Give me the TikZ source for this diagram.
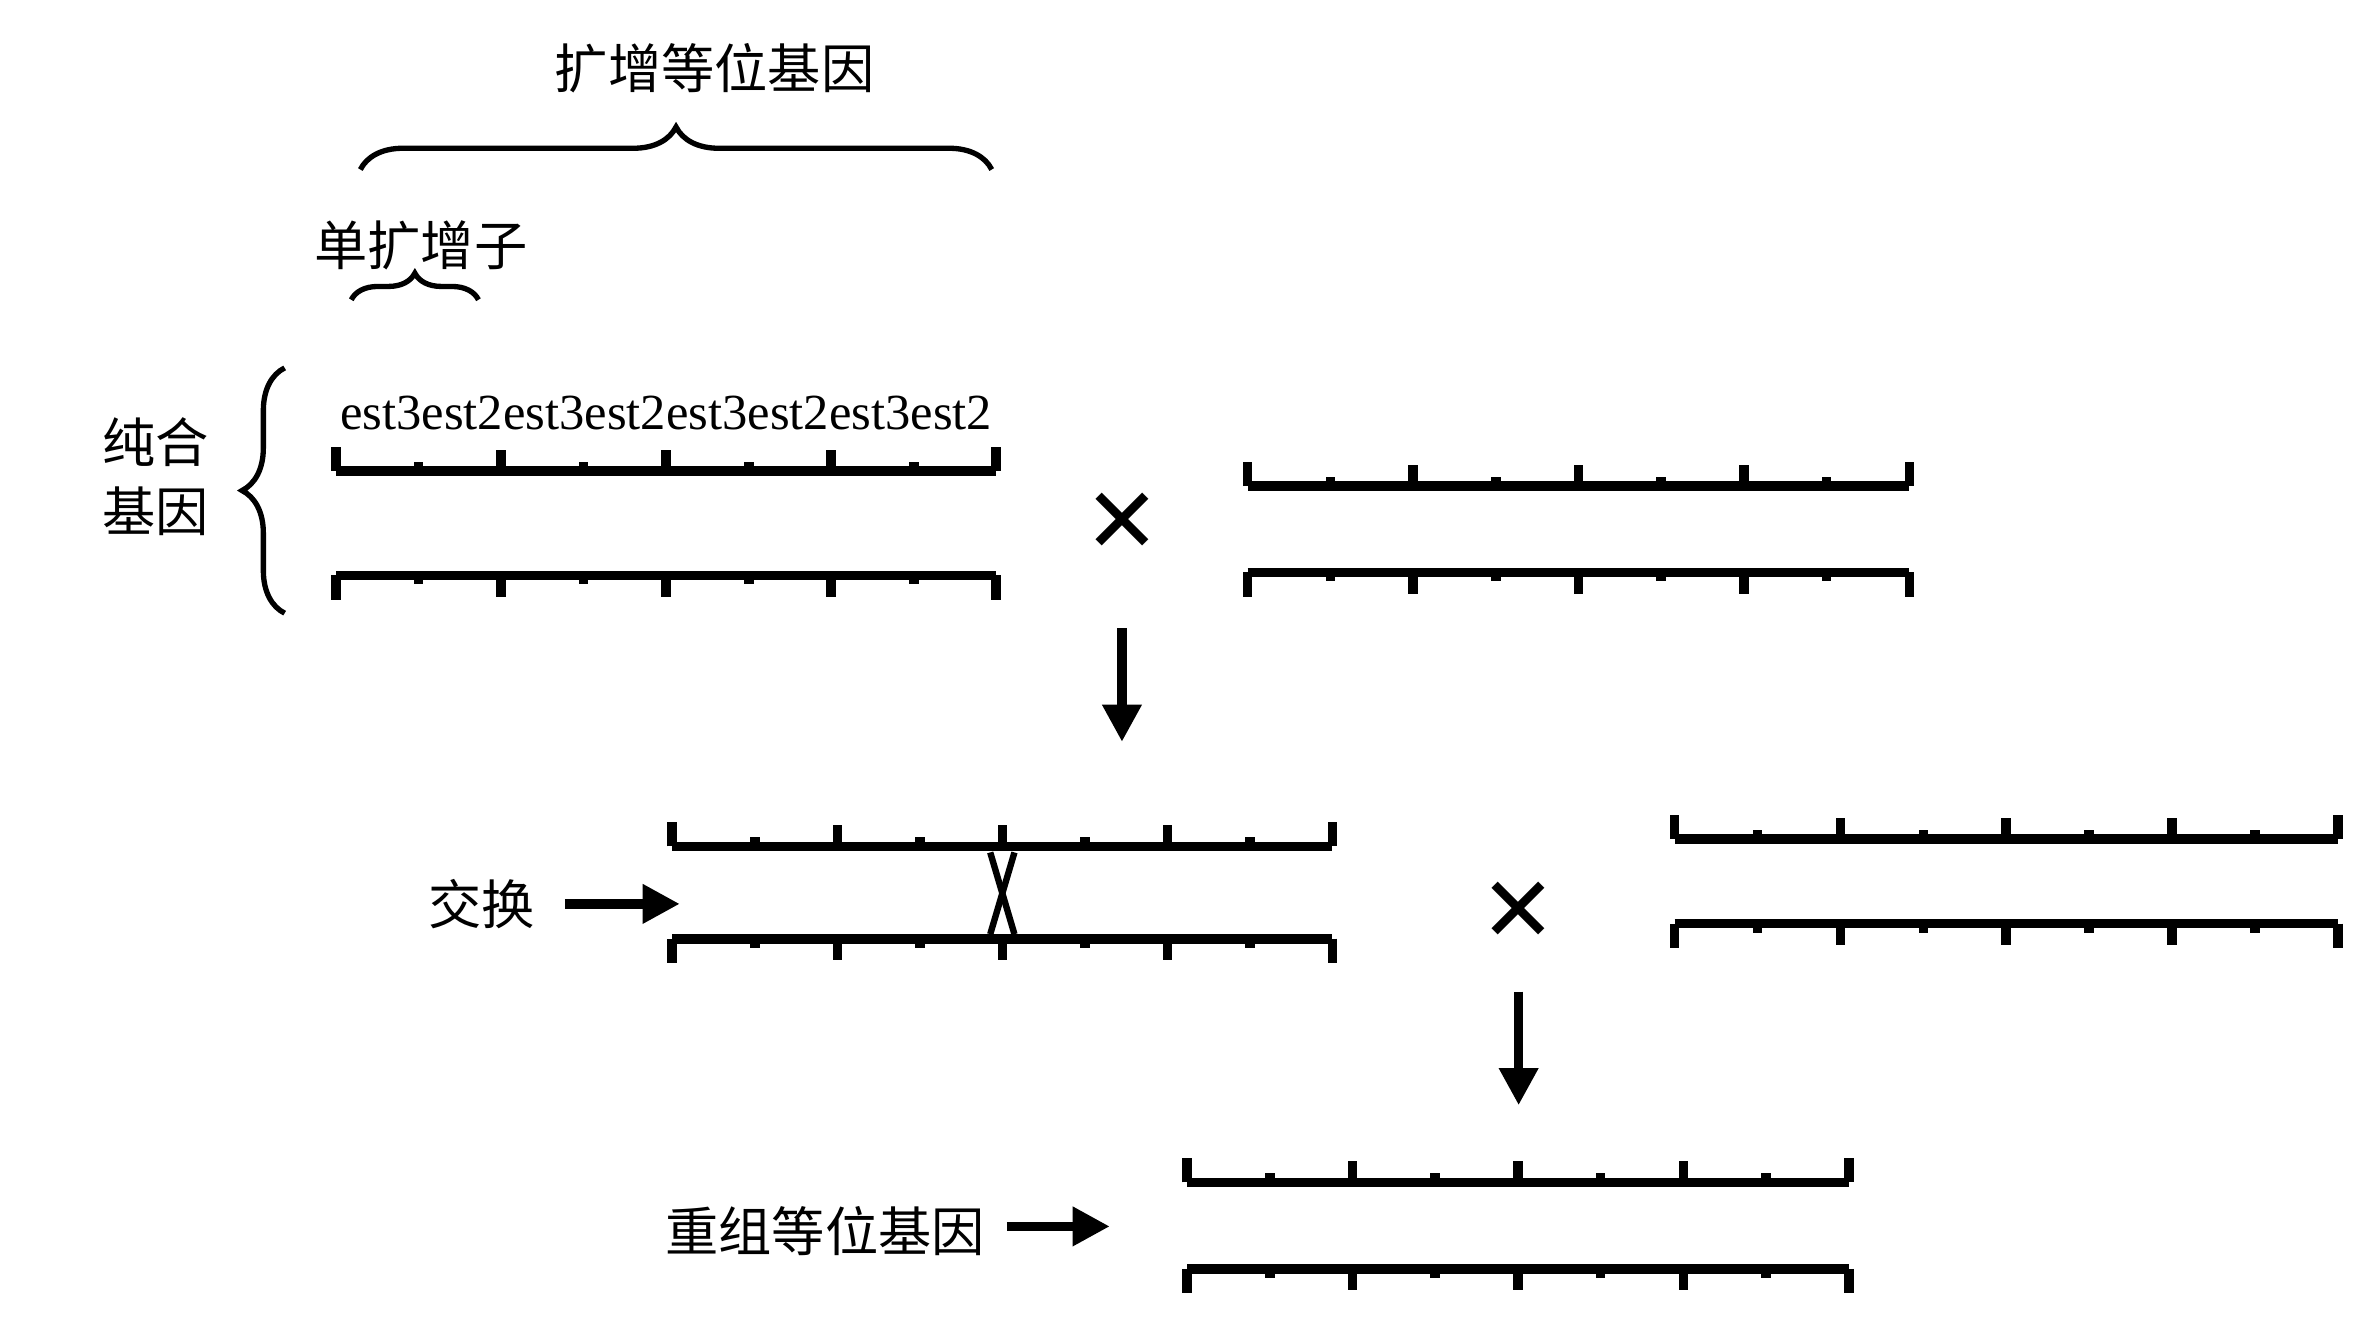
\documentclass[tikz,border=0pt]{standalone}
\usepackage{fontspec}
\setmainfont{Liberation Serif}
\newfontfamily\cjk{Noto Sans CJK SC}
\newfontfamily\symb{DejaVu Sans}
\usetikzlibrary{arrows.meta,positioning,decorations.pathreplacing}

% one chromosome: x start, x end, y, tick direction (-1 up, +1 down)
\newcommand{\chrom}[4]{%
  \draw[chr] (#1,#3) -- (#2,#3);
  \draw[chr] (#1,#3) -- ++(0,#4*16) (#2,#3) -- ++(0,#4*16);
  \foreach \k in {1,...,7}{
    \pgfmathsetmacro{\tx}{#1+\k*(#2-#1)/8}
    \pgfmathsetmacro{\tl}{mod(\k,2)==0 ? 14 : 6}
    \draw[chr] (\tx,#3) -- ++(0,#4*\tl);
  }%
}

\begin{document}
\begin{tikzpicture}[x=0.01cm,y=-0.01cm,
    chr/.style={line width=1.8pt},
    lbl/.style={font=\cjk\fontsize{10}{13}\selectfont},
    brc/.style={decorate,decoration={brace,amplitude=8pt},line width=1pt},
    arr/.style={line width=1.8pt,-{Triangle[length=7pt,width=7pt]}},
    cross/.style={font=\symb\bfseries\fontsize{17}{17}\selectfont}]
  \useasboundingbox (0,0) rectangle (1560,874);

  % braces and labels
  \draw[brc] (238,112) -- (655,112);
  \node[lbl] (allele) at (472,45) {扩增等位基因};
  \draw[brc,decoration={amplitude=5pt}] (232,198) -- (316,198);
  \node[lbl] (single) at (278,162) {单扩增子};
  \draw[brc] (188,405) -- (188,243);
  \node[lbl,align=center] (homo) at (103,315) {纯合\\基因};
  \node[font=\fontsize{9.5}{11}\selectfont] (est) at (440,273) {est3est2est3est2est3est2est3est2};

  % chromosomes
  \chrom{222}{658}{311}{-1}
  \chrom{222}{658}{380}{1}
  \chrom{824}{1261}{321}{-1}
  \chrom{824}{1261}{378}{1}
  \chrom{444}{880}{559}{-1}
  \chrom{444}{880}{620}{1}
  \chrom{1106}{1544}{554}{-1}
  \chrom{1106}{1544}{610}{1}
  \chrom{784}{1221}{781}{-1}
  \chrom{784}{1221}{838}{1}

  % crossover
  \draw[line width=1.2pt] (654,563) -- (670,617);
  \draw[line width=1.2pt] (670,563) -- (654,617);

  % crosses
  \node[cross] (x1) at (741,345) {✕};
  \node[cross] (x2) at (1003,602) {✕};

  % arrows
  \coordinate (a1s) at (741,415); \coordinate (a1e) at (741,490);
  \coordinate (a2s) at (1003,655); \coordinate (a2e) at (1003,730);
  \draw[arr] (a1s) -- (a1e);
  \draw[arr] (a2s) -- (a2e);
  \node[lbl] (swap) at (318,597) {交换};
  \coordinate (swaps) at (373,597); \coordinate (swapend) at (449,597);
  \draw[arr] (swaps) -- (swapend);
  \node[lbl] (recomb) at (545,813) {重组等位基因};
  \coordinate (recs) at (665,810); \coordinate (recend) at (733,810);
  \draw[arr] (recs) -- (recend);
\end{tikzpicture}
\end{document}
